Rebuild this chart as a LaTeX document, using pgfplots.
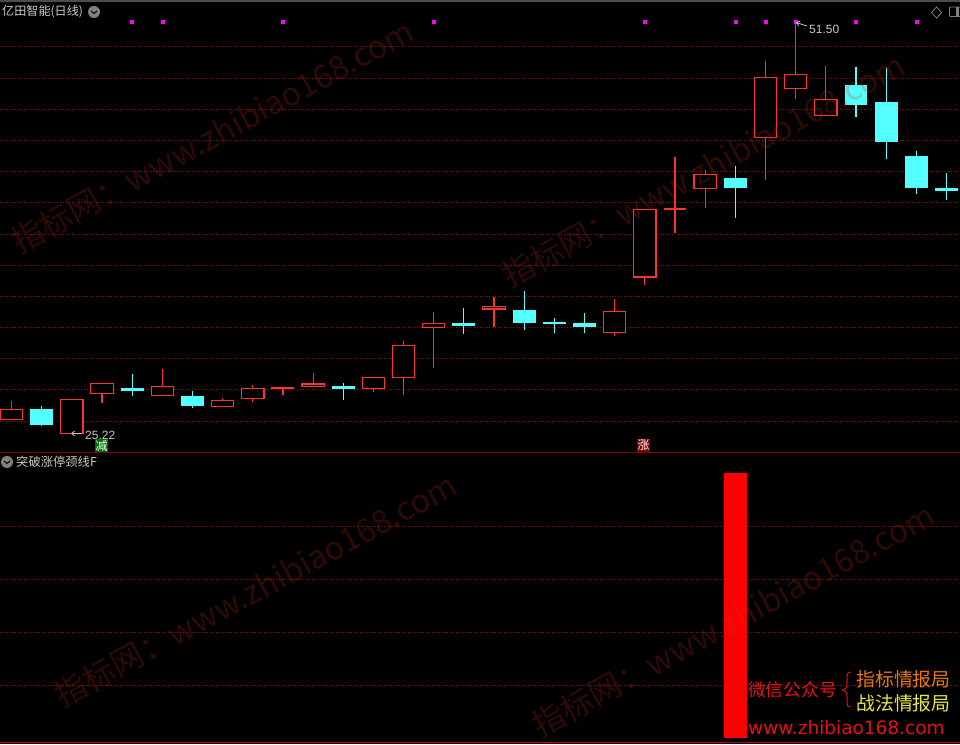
\documentclass[border=0pt]{standalone}
\usepackage{fontspec}
\usepackage{pgfplots}
\usetikzlibrary{arrows.meta}
\pgfplotsset{compat=1.18}
\setmainfont{Liberation Sans}
\newfontfamily\cjk{Noto Sans CJK SC}
\newfontfamily\dv{DejaVu Sans}
\definecolor{upred}{RGB}{255,50,50}
\definecolor{dncy}{RGB}{84,255,255}
\definecolor{gridred}{RGB}{170,0,0}
\definecolor{lbl}{RGB}{200,200,200}
\definecolor{wm}{RGB}{210,50,20}
\definecolor{mag}{RGB}{255,0,255}
\definecolor{purered}{RGB}{255,0,0}
\definecolor{divline}{RGB}{128,0,0}
\definecolor{botline}{RGB}{200,0,0}
\definecolor{badgeg}{RGB}{0,110,0}
\definecolor{badger}{RGB}{130,0,0}
\definecolor{adorange}{RGB}{230,120,10}
\definecolor{adyellow}{RGB}{235,230,60}
\definecolor{adred}{RGB}{230,15,25}
% up candle: index, open(bottom), close(top), high, low
\newcommand\upc[5]{%
  \pgfmathsetmacro\xl{#1-0.37}\pgfmathsetmacro\xr{#1+0.37}%
  \addplot[upred,line width=1.15pt,forget plot] coordinates {(#1,#4)(#1,#3)};
  \addplot[upred,line width=1.15pt,forget plot] coordinates {(#1,#2)(#1,#5)};
  \addplot[draw=upred,fill=black,line width=1.15pt,forget plot] coordinates {(\xl,#2)(\xr,#2)(\xr,#3)(\xl,#3)} -- cycle;
}
% flat up candle drawn solid: index, open, close, high, low
\newcommand\upf[5]{%
  \pgfmathsetmacro\xl{#1-0.38}\pgfmathsetmacro\xr{#1+0.38}%
  \addplot[upred,line width=1.15pt,forget plot] coordinates {(#1,#4)(#1,#5)};
  \addplot[draw=none,fill=upred,forget plot] coordinates {(\xl,#2)(\xr,#2)(\xr,#3)(\xl,#3)} -- cycle;
}
% down candle: index, open(top), close(bottom), high, low
\newcommand\dnc[5]{%
  \pgfmathsetmacro\xl{#1-0.38}\pgfmathsetmacro\xr{#1+0.38}%
  \addplot[dncy,line width=1.15pt,forget plot] coordinates {(#1,#4)(#1,#5)};
  \addplot[draw=none,fill=dncy,forget plot] coordinates {(\xl,#3)(\xr,#3)(\xr,#2)(\xl,#2)} -- cycle;
}
\newcommand\wmk[2]{\node[rotate=28.5,anchor=center,text=wm,opacity=0.22,font=\cjk\fontsize{32.3}{32.3}\selectfont] at (#1pt,{744pt-#2pt}) {指标网：www.zhibiao168.com};}
\begin{document}
\begin{tikzpicture}[x=1pt,y=1pt]
\useasboundingbox (0,0) rectangle (960pt,744pt);
\fill[black] (0,0) rectangle (960pt,744pt);
\begin{axis}[
  at={(0,291pt)},anchor=south west,scale only axis,width=960pt,height=453pt,
  xmin=-0.3813,xmax=31.449,ymin=23.99,ymax=52.90,
  axis line style={draw=none},tick style={draw=none},
  xtick=\empty,yticklabels={},
  ytick={49.92,47.92,45.93,43.94,41.95,39.97,37.97,35.98,33.97,32.01,30.03,28.05,26.01},
  ymajorgrids,grid style={gridred,line width=0.8pt,dash pattern=on 1pt off 2pt},
]
\upc{0}{26.11}{26.78}{27.31}{26.11}
\dnc{1}{26.80}{25.78}{26.99}{25.73}
\upc{2}{25.22}{27.42}{27.42}{25.22}
\upc{3}{27.77}{28.44}{28.44}{27.18}
\dnc{4}{28.14}{27.95}{29.03}{27.63}
\upc{5}{27.65}{28.25}{29.35}{27.65}
\dnc{6}{27.63}{26.99}{27.95}{26.86}
\upc{7}{26.94}{27.35}{27.50}{26.94}
\upc{8}{27.45}{28.12}{28.33}{27.24}
\upf{9}{28.07}{28.20}{28.20}{27.69}
\upc{10}{28.22}{28.39}{29.09}{28.22}
\dnc{11}{28.26}{28.07}{28.46}{27.37}
\upc{12}{28.09}{28.82}{28.82}{27.90}
\upc{13}{28.79}{30.86}{31.14}{27.69}
\upc{14}{31.99}{32.27}{32.99}{29.43}
\dnc{15}{32.29}{32.09}{33.24}{31.58}
\upc{16}{33.18}{33.35}{33.95}{32.03}
\dnc{17}{33.12}{32.29}{34.33}{31.84}
\dnc{18}{32.35}{32.22}{32.61}{31.65}
\dnc{19}{32.29}{32.03}{32.92}{31.65}
\upc{20}{31.67}{33.03}{33.82}{31.46}
\upc{21}{35.22}{39.54}{39.54}{34.71}
\upf{22}{39.50}{39.63}{42.88}{38.03}
\upc{23}{40.86}{41.78}{42.05}{39.63}
\dnc{24}{41.54}{40.90}{42.31}{38.99}
\upc{25}{44.11}{47.97}{49.01}{41.41}
\upc{26}{47.24}{48.16}{51.50}{46.58}
\upc{27}{45.52}{46.57}{48.69}{45.52}
\dnc{28}{47.48}{46.20}{48.63}{45.44}
\dnc{29}{46.39}{43.84}{48.56}{42.75}
\dnc{30}{42.95}{40.90}{43.27}{40.52}
\dnc{31}{40.90}{40.71}{41.86}{40.14}
\addplot[only marks,mark=square*,mark size=1.5pt,mark options={fill=mag,draw=none},color=mag] coordinates {
(4,51.53)(5,51.53)(9,51.53)(14,51.53)(21,51.53)(24,51.53)(25,51.53)(26,51.53)(28,51.53)(30,51.53)};
\end{axis}
\begin{axis}[
  at={(0,0)},anchor=south west,scale only axis,width=960pt,height=291pt,
  xmin=-0.3813,xmax=31.449,ymin=-0.0226,ymax=1.0755,
  axis line style={draw=none},tick style={draw=none},
  xtick=\empty,yticklabels={},
  ytick={0.2,0.4,0.6,0.8},
  ymajorgrids,grid style={gridred,line width=0.8pt,dash pattern=on 1pt off 2pt},
]
\addplot[draw=none,fill=purered,forget plot] coordinates {(23.62,0)(24.38,0)(24.38,1)(23.62,1)} -- cycle;
\end{axis}
% frame
\fill[black!70!white] (0,741pt) rectangle (960pt,744pt);
\fill[black] (0,742pt) rectangle (960pt,741pt);
\draw[divline,line width=1pt] (0,291pt) -- (960pt,291pt);
\draw[botline,line width=1.5pt] (0,1.5pt) -- (960pt,1.5pt);
% labels
\definecolor{tt}{RGB}{200,200,200}
\node[anchor=west,inner sep=0,text=tt,font=\cjk\fontsize{12.1}{13}\selectfont] at (2pt,732pt) {亿田智能(日线)};
\fill[gray] (94pt,732pt) circle (6pt);
\draw[black,line width=1pt] (91pt,733pt) -- (94pt,730.5pt) -- (97pt,733pt);
\node[anchor=west,inner sep=0,text=tt,font=\cjk\fontsize{12.3}{13}\selectfont] at (16pt,282pt) {突破涨停颈线F};
\fill[gray] (7pt,282pt) circle (6pt);
\draw[black,line width=1pt] (4pt,283pt) -- (7pt,280.5pt) -- (10pt,283pt);
\draw[gray,line width=0.8pt] (936.5pt,737pt) -- (941.5pt,731.5pt) -- (936.5pt,726pt) -- (931.5pt,731.5pt) -- cycle;
\draw[gray,line width=0.8pt,rounded corners=1pt] (949.5pt,727.5pt) rectangle (965pt,737pt);
\fill[gray] (955.5pt,728pt) rectangle (959pt,736.5pt);
% price notes
\node[anchor=west,inner sep=0,text=lbl,font=\fontsize{12}{12}\selectfont] at (809pt,715pt) {51.50};
\draw[lbl,line width=0.8pt,-{Straight Barb[length=3pt,width=5pt]}] (807pt,718pt) -- (796pt,721.5pt);
\node[anchor=west,inner sep=0,text=lbl,font=\fontsize{12}{12}\selectfont] at (85pt,309pt) {25.22};
\draw[lbl,line width=0.8pt,-{Straight Barb[length=3pt,width=5pt]}] (82pt,310.5pt) -- (71pt,310.5pt);
\fill[badgeg] (95pt,292pt) rectangle (108pt,305pt);
\node[inner sep=0,text=white,font=\cjk\fontsize{12}{12}\selectfont] at (101.5pt,298.5pt) {减};
\fill[badger] (637pt,292pt) rectangle (650pt,305pt);
\node[inner sep=0,text=white,font=\cjk\fontsize{12}{12}\selectfont] at (643.5pt,298.5pt) {涨};
% ad
\node[anchor=west,inner sep=0,text=adred,font=\cjk\fontsize{17.7}{18}\selectfont] at (748pt,54pt) {微信公众号};
\draw[adred,line width=1pt] (850.5pt,72pt) .. controls (847pt,72pt) and (847pt,69pt) .. (847pt,66pt) -- (847pt,60pt) .. controls (847pt,56pt) and (845pt,54.5pt) .. (842.5pt,54pt) .. controls (845pt,53.5pt) and (847pt,52pt) .. (847pt,48pt) -- (847pt,42pt) .. controls (847pt,39pt) and (847pt,37pt) .. (850.5pt,37pt);
\node[anchor=west,inner sep=0,text=adorange,font=\cjk\fontsize{18.9}{19}\selectfont] at (856pt,65pt) {指标情报局};
\node[anchor=west,inner sep=0,text=adyellow,font=\cjk\fontsize{18.9}{19}\selectfont] at (856pt,41pt) {战法情报局};
\node[anchor=west,inner sep=0,text=adred,font=\dv\fontsize{18.5}{19}\selectfont] at (748pt,16pt) {www.zhibiao168.com};
% watermarks
\wmk{212}{136}
\wmk{703}{170}
\wmk{255}{590}
\wmk{733}{620}
\end{tikzpicture}
\end{document}
